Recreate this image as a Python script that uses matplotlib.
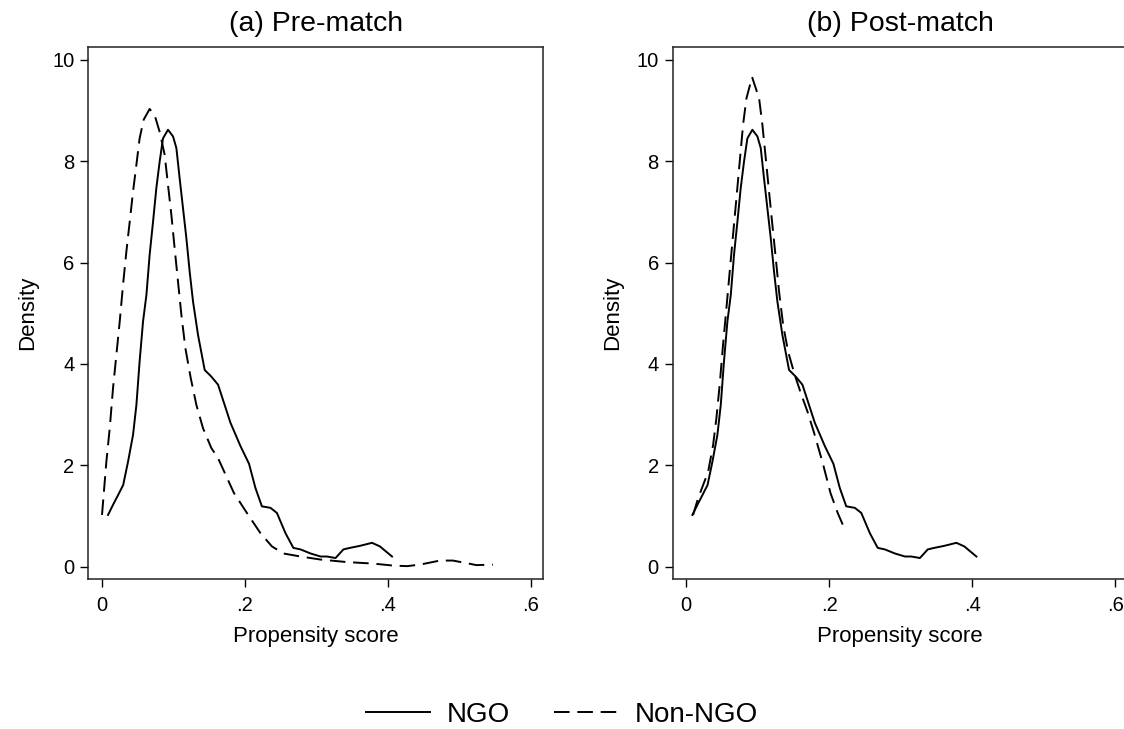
import numpy as np
import matplotlib.pyplot as plt

plt.rcParams['font.family'] = ['Liberation Sans', 'DejaVu Sans']

# NGO density (same in both panels)
ngo_x = [0.0088, 0.0158, 0.0228, 0.030, 0.0368, 0.0438, 0.0485, 0.053, 0.0578, 0.0625,
         0.067, 0.0718, 0.0764, 0.081, 0.0857, 0.0927, 0.0997, 0.1044, 0.109, 0.1137,
         0.1184, 0.123, 0.1277, 0.1347, 0.144, 0.1533, 0.1627, 0.168, 0.180, 0.194,
         0.206, 0.215, 0.224, 0.236, 0.245, 0.257, 0.268, 0.278, 0.292, 0.306,
         0.315, 0.327, 0.338, 0.347, 0.361, 0.378, 0.389, 0.406]
ngo_y = [1.02, 1.22, 1.41, 1.61, 2.07, 2.60, 3.19, 4.05, 4.84, 5.36,
         6.15, 6.81, 7.47, 7.99, 8.45, 8.62, 8.49, 8.26, 7.66, 7.07,
         6.48, 5.82, 5.23, 4.57, 3.88, 3.75, 3.59, 3.36, 2.84, 2.38,
         2.03, 1.55, 1.19, 1.16, 1.06, 0.66, 0.37, 0.34, 0.26, 0.20,
         0.20, 0.17, 0.34, 0.37, 0.41, 0.47, 0.40, 0.20]

# Non-NGO, pre-match
pre_x = [0.0004, 0.0065, 0.0112, 0.0158, 0.0205, 0.0252, 0.0298, 0.0345, 0.0392, 0.0438,
         0.0485, 0.053, 0.0587, 0.067, 0.074, 0.081, 0.088, 0.0927, 0.0974, 0.102,
         0.1067, 0.1114, 0.117, 0.1245, 0.1324, 0.1417, 0.1533, 0.1627, 0.185, 0.203,
         0.222, 0.238, 0.254, 0.278, 0.306, 0.343, 0.380, 0.408, 0.427, 0.445,
         0.473, 0.491, 0.510, 0.524, 0.547]
pre_y = [1.02, 2.07, 2.73, 3.52, 4.18, 4.84, 5.56, 6.22, 6.81, 7.40,
         7.93, 8.45, 8.82, 9.03, 8.91, 8.58, 8.13, 7.53, 6.94, 6.28,
         5.62, 4.97, 4.31, 3.72, 3.19, 2.73, 2.34, 2.14, 1.45, 1.06,
         0.66, 0.40, 0.26, 0.20, 0.14, 0.09, 0.06, 0.02, 0.01, 0.04,
         0.12, 0.12, 0.07, 0.03, 0.04]

# Non-NGO, post-match
post_x = [0.0098, 0.0168, 0.0238, 0.0308, 0.0378, 0.0424, 0.047, 0.0517, 0.0564, 0.061,
          0.0657, 0.0704, 0.075, 0.0797, 0.0844, 0.0923, 0.1021, 0.1067, 0.1114, 0.116,
          0.1207, 0.1254, 0.130, 0.1357, 0.1427, 0.152, 0.1613, 0.170, 0.179, 0.191,
          0.202, 0.212, 0.220]
post_y = [1.02, 1.35, 1.61, 1.87, 2.40, 2.93, 3.59, 4.38, 5.10, 5.82,
          6.55, 7.27, 7.99, 8.72, 9.24, 9.66, 9.24, 8.72, 8.06, 7.40,
          6.74, 6.09, 5.43, 4.77, 4.24, 3.78, 3.39, 3.05, 2.64, 2.05,
          1.45, 1.06, 0.80]

titles = ['(a) Pre-match', '(b) Post-match']
xticks = [0, 0.2, 0.4, 0.6]
xticklabels = ['0', '.2', '.4', '.6']
yticks = [0, 2, 4, 6, 8, 10]

fig = plt.figure(figsize=(11.24, 7.29), dpi=100)
lefts = [0.0786, 0.5985]
lw = 1.4
dash = (8, 4)

for i, (nx, ny) in enumerate([(pre_x, pre_y), (post_x, post_y)]):
    ax = fig.add_axes([lefts[i], 0.2054, 0.4048, 0.7306])
    ax.plot(ngo_x, ngo_y, color='k', lw=lw, label='NGO')
    ax.plot(nx, ny, color='k', lw=lw, dashes=dash, label='Non-NGO')
    ax.set_xlim(-0.0187, 0.6176)
    ax.set_ylim(-0.249, 10.26)
    ax.set_xticks(xticks)
    ax.set_xticklabels(xticklabels)
    ax.set_yticks(yticks)
    ax.tick_params(direction='out', length=6, width=1, labelsize=14.5, pad=4)
    ax.tick_params(axis='x', pad=6)
    for s in ax.spines.values():
        s.set_linewidth(1.1)
        s.set_color('#222222')
    ax.set_xlabel('Propensity score', fontsize=16, labelpad=8)
    ax.set_ylabel('Density', fontsize=16, labelpad=10)
    ax.set_title(titles[i], fontsize=20.5, pad=11)
    if i == 0:
        handles, labels = ax.get_legend_handles_labels()

fig.legend(handles, labels, loc='center', bbox_to_anchor=(0.5, 1 - 715 / 729),
           ncol=2, frameon=False, fontsize=20, handlelength=2.3,
           handletextpad=0.6, columnspacing=1.6)

fig.savefig('out.png', dpi=100)
